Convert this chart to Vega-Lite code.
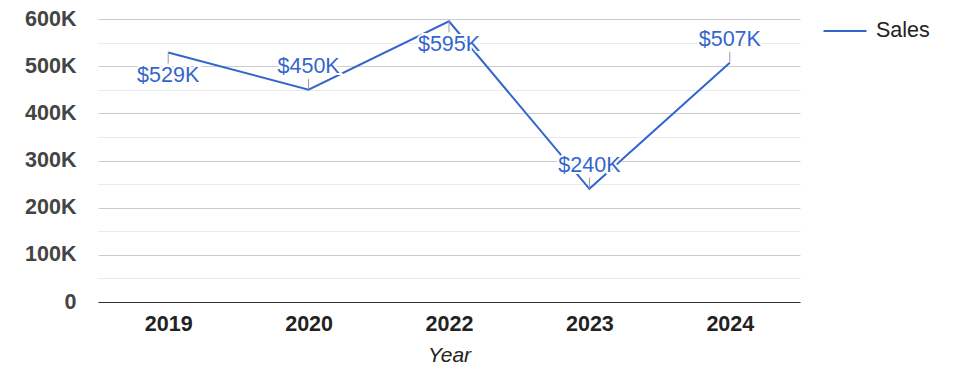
{
  "$schema": "https://vega.github.io/schema/vega-lite/v6.json",
  "width": 702,
  "height": 283,
  "autosize": "none",
  "padding": {"left": 98, "top": 19, "right": 175, "bottom": 76},
  "background": "white",
  "config": {
    "font": "Liberation Sans",
    "view": {"stroke": null}
  },
  "data": {
    "values": [
      {"Year": "2019", "Sales": 529000, "series": "Sales"},
      {"Year": "2020", "Sales": 450000, "series": "Sales"},
      {"Year": "2022", "Sales": 595000, "series": "Sales"},
      {"Year": "2023", "Sales": 240000, "series": "Sales"},
      {"Year": "2024", "Sales": 507000, "series": "Sales"}
    ]
  },
  "transform": [
    {"calculate": "'$' + format(datum.Sales/1000, 'd') + 'K'", "as": "label"},
    {"calculate": "datum.Year == '2019' || datum.Year == '2022' ? 'below' : 'above'", "as": "side"}
  ],
  "encoding": {
    "x": {
      "field": "Year",
      "type": "ordinal",
      "scale": {"type": "point", "padding": 0.5},
      "axis": {
        "labelAngle": 0,
        "labelFont": "Liberation Sans",
        "labelFontSize": 21.5,
        "labelFontWeight": "bold",
        "labelColor": "#222222",
        "labelPadding": 11,
        "ticks": false,
        "domain": true,
        "domainColor": "#333333",
        "domainWidth": 1.2,
        "grid": false,
        "title": "Year",
        "titleFont": "Liberation Sans",
        "titleFontSize": 21,
        "titleFontStyle": "italic",
        "titleFontWeight": "normal",
        "titleColor": "#222222",
        "titlePadding": 10
      }
    },
    "y": {
      "field": "Sales",
      "type": "quantitative",
      "scale": {"domain": [0, 600000], "nice": false},
      "axis": {
        "values": [0, 50000, 100000, 150000, 200000, 250000, 300000, 350000, 400000, 450000, 500000, 550000, 600000],
        "labelExpr": "datum.value % 100000 != 0 ? '' : (datum.value == 0 ? '0' : (datum.value/1000) + 'K')",
        "labelFont": "Liberation Sans",
        "labelFontSize": 21.5,
        "labelFontWeight": "bold",
        "labelColor": "#444444",
        "labelPadding": 22,
        "ticks": false,
        "domain": false,
        "grid": true,
        "gridColor": {"condition": {"test": "datum.value % 100000 == 0", "value": "#cccccc"}, "value": "#ebebeb"},
        "gridWidth": 1,
        "title": null
      }
    }
  },
  "layer": [
    {
      "mark": {"type": "line", "strokeWidth": 2},
      "encoding": {
        "color": {
          "field": "series",
          "type": "nominal",
          "scale": {"range": ["#3366cc"]},
          "legend": {
            "title": null,
            "orient": "none",
            "legendX": 724,
            "legendY": -11,
            "symbolType": "stroke",
            "symbolSize": 1850,
            "symbolStrokeWidth": 2,
            "labelFont": "Liberation Sans",
            "labelFontSize": 21.5,
            "labelColor": "#222222",
            "labelOffset": 8
          }
        }
      }
    },
    {
      "transform": [{"filter": "datum.side == 'below'"}],
      "mark": {"type": "rule", "color": "#999999", "strokeWidth": 1, "y2Offset": 11},
      "encoding": {"y2": {"field": "Sales"}}
    },
    {
      "transform": [{"filter": "datum.side == 'above'"}],
      "mark": {"type": "rule", "color": "#999999", "strokeWidth": 1, "y2Offset": -11},
      "encoding": {"y2": {"field": "Sales"}}
    },
    {
      "transform": [{"filter": "datum.side == 'below'"}],
      "mark": {"type": "text", "fontSize": 21.5, "font": "Liberation Sans", "dy": 24, "fill": "white", "stroke": "white", "strokeWidth": 4},
      "encoding": {"text": {"field": "label"}}
    },
    {
      "transform": [{"filter": "datum.side == 'above'"}],
      "mark": {"type": "text", "fontSize": 21.5, "font": "Liberation Sans", "dy": -23, "fill": "white", "stroke": "white", "strokeWidth": 4},
      "encoding": {"text": {"field": "label"}}
    },
    {
      "transform": [{"filter": "datum.side == 'below'"}],
      "mark": {"type": "text", "fontSize": 21.5, "font": "Liberation Sans", "dy": 24, "color": "#3366cc"},
      "encoding": {"text": {"field": "label"}}
    },
    {
      "transform": [{"filter": "datum.side == 'above'"}],
      "mark": {"type": "text", "fontSize": 21.5, "font": "Liberation Sans", "dy": -23, "color": "#3366cc"},
      "encoding": {"text": {"field": "label"}}
    }
  ]
}
